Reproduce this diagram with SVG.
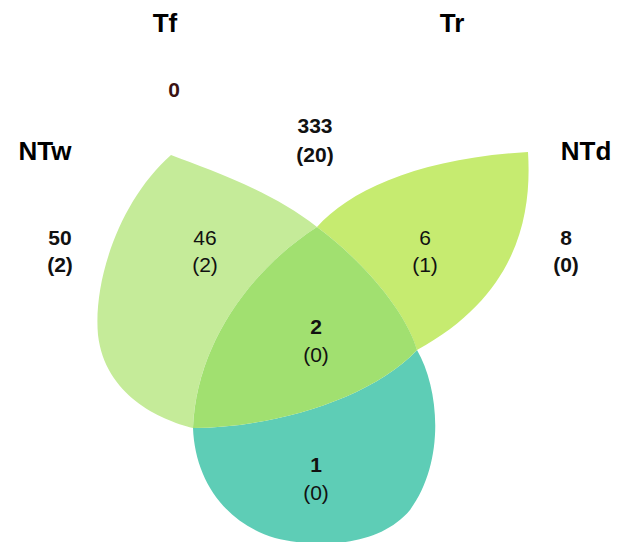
<svg xmlns="http://www.w3.org/2000/svg" width="619" height="542" viewBox="0 0 619 542">
<style>
.lbl{font-family:"Liberation Sans",Arial,sans-serif;font-size:26px;font-weight:bold;fill:#000;text-anchor:middle}
.num{font-family:"Liberation Sans",Arial,sans-serif;font-size:21px;fill:#111;text-anchor:middle}
.b{font-weight:bold}
</style>
<rect width="619" height="542" fill="#ffffff"/>
<g id="regions">
<g id="teal-only"><path d="M193,428 C270,428 370,400 417,350 C440,390 445,462 410,510 C380,546 320,549 275,538 C225,523 195,480 193,428 Z" fill="#5ecdb6"/></g>
<g id="left-only"><path d="M171,155 C210,170 270,190 317,227 C250,270 196,345 193,428 C160,420 105,395 98,335 C93,280 120,200 171,155 Z" fill="#c5eb99"/></g>
<g id="right-only"><path d="M317,227 C350,190 420,158 528,152 C532,215 518,295 417,350 C408,318 372,268 317,227 Z" fill="#c6eb70"/></g>
<g id="center"><path d="M317,227 C250,270 196,345 193,428 C270,428 370,400 417,350 C408,318 372,268 317,227 Z" fill="#a1e070"/></g>
</g>
<g id="connectors"></g>
<g id="labels">
<g id="Tf"><text class="lbl" x="165" y="32">Tf</text></g>
<g id="Tr"><text class="lbl" x="452" y="32">Tr</text></g>
<g id="NTw"><text class="lbl" x="45" y="160">NTw</text></g>
<g id="NTd"><text class="lbl" x="586" y="160">NTd</text></g>
</g>
<g id="counts">
<g id="c0"><text class="num b" x="174" y="97" style="fill:#3a1212">0</text></g>
<g id="c333"><text class="num b" x="315" y="133">333</text><text class="num b" x="315" y="162">(20)</text></g>
<g id="c50"><text class="num b" x="60" y="245">50</text><text class="num b" x="60" y="272">(2)</text></g>
<g id="c46"><text class="num" x="205" y="245">46</text><text class="num" x="205" y="272">(2)</text></g>
<g id="c6"><text class="num" x="425" y="245">6</text><text class="num" x="425" y="272">(1)</text></g>
<g id="c8"><text class="num b" x="566" y="245">8</text><text class="num b" x="566" y="272">(0)</text></g>
<g id="c2"><text class="num b" x="316" y="334">2</text><text class="num" x="316" y="362">(0)</text></g>
<g id="c1"><text class="num b" x="316" y="472">1</text><text class="num" x="316" y="500">(0)</text></g>
</g>
</svg>
